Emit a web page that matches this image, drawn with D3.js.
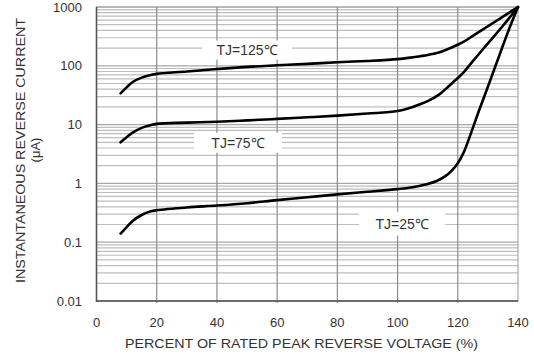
<!DOCTYPE html>
<html><head><meta charset="utf-8">
<script src="https://cdn.jsdelivr.net/npm/d3@7"></script>
<style>
html,body{margin:0;padding:0;background:#fff;}
svg{display:block;font-family:"Liberation Sans",Arial,sans-serif;}
</style></head>
<body>
<svg id="c" width="534" height="356"></svg>
<script>
// ---- data ----
const xTicks = [0, 20, 40, 60, 80, 100, 120, 140];
const yTicks = [0.01, 0.1, 1, 10, 100, 1000];
const yTickLabels = ["0.01", "0.1", "1", "10", "100", "1000"];
const series = ["TJ=125℃", "TJ=75℃", "TJ=25℃"];
const tj125 = [[8,34],[10,43],[12,53],[15,63],[18,70],[20,73],[30,80],[40,88],[50,96],[60,102],[70,108],[80,115],[90,121],[100,130],[105,140],[110,153],[114,170],[118,205],[122,257],[125,322],[128,405],[131,507],[134,636],[137,796],[140,1000]];
const tj75 = [[8,5],[10,6.1],[12,7.3],[15,8.8],[18,9.8],[20,10.3],[30,10.8],[40,11.2],[50,11.8],[60,12.5],[70,13.3],[80,14.2],[90,15.4],[100,17],[105,20],[110,25],[114,33],[117,45],[120,62],[122,78],[125,120],[130,240],[135,480],[140,1000]];
const tj25 = [[8,0.14],[10,0.18],[12,0.23],[15,0.29],[18,0.335],[20,0.35],[30,0.39],[40,0.42],[50,0.46],[60,0.52],[70,0.58],[80,0.65],[90,0.72],[100,0.80],[105,0.86],[110,0.98],[113,1.1],[116,1.34],[118,1.65],[120,2.2],[122,3.4],[124,6.3],[127,17],[130.7,55],[134,160],[137.4,470],[140,1000]];
const labelPos = [[50,185],[47,4.9],[101.5,0.206]]; // label anchor (x %, value)
const xTitle = "PERCENT OF RATED PEAK REVERSE VOLTAGE (%)";
const yTitle = "INSTANTANEOUS REVERSE CURRENT";
const yUnit = "(μA)";

// ---- layout ----
const svg = d3.select("#c");
const L = 96.5, R = 518, T = 7, B = 301;
const x = d3.scaleLinear().domain([0,140]).range([L,R]);
const y = d3.scaleLog().domain([0.01,1000]).range([B,T]);
const txt = "#333";

// minor horizontal grid
const minor = [];
for (let e = -2; e < 3; e++) for (let k = 2; k <= 9; k++) minor.push(k*Math.pow(10,e));
const g = svg.append("g");
g.selectAll("line.mh").data(minor).join("line")
 .attr("x1",L).attr("x2",R).attr("y1",d=>y(d)).attr("y2",d=>y(d))
 .attr("stroke","#bdbdbd").attr("stroke-width",1.2);
g.selectAll("line.Mh").data(yTicks).join("line")
 .attr("x1",L).attr("x2",R).attr("y1",d=>y(d)).attr("y2",d=>y(d))
 .attr("stroke","#a8a8a8").attr("stroke-width",1.2);
g.selectAll("line.v").data(xTicks.slice(1,-1)).join("line")
 .attr("x1",d=>x(d)).attr("x2",d=>x(d)).attr("y1",T).attr("y2",B+2)
 .attr("stroke","#8c8c8c").attr("stroke-width",1.2);

// label boxes (white, cover grid)
const lbl = svg.append("g");
series.forEach((s,i)=>{
  const cx = x(labelPos[i][0]), cy = y(labelPos[i][1]);
  const w = [90,88,86][i], h = [19,20,24][i];
  lbl.append("rect").attr("x",cx-w/2).attr("y",cy-h/2).attr("width",w).attr("height",h).attr("fill","#fff");
});

// frame
svg.append("rect").attr("x",L).attr("y",T).attr("width",R-L).attr("height",B-T)
 .attr("fill","none").attr("stroke","#9a9a9a").attr("stroke-width",1);
svg.append("line").attr("x1",L).attr("x2",L).attr("y1",T).attr("y2",B+1).attr("stroke","#555").attr("stroke-width",1.6);
svg.append("line").attr("x1",L).attr("x2",R).attr("y1",B).attr("y2",B).attr("stroke","#555").attr("stroke-width",1.6);

// curves
const line = d3.line().x(d=>x(d[0])).y(d=>y(d[1])).curve(d3.curveCatmullRom.alpha(0.5));
[tj125,tj75,tj25].forEach(s=>{
  svg.append("path").attr("d",line(s)).attr("fill","none").attr("stroke","#000")
   .attr("stroke-width",2.6).attr("stroke-linecap","round").attr("stroke-linejoin","round");
});

// label texts
series.forEach((s,i)=>{
  lbl.append("text").attr("x",x(labelPos[i][0])).attr("y",y(labelPos[i][1]))
   .attr("text-anchor","middle").attr("dominant-baseline","central")
   .attr("font-size",14).attr("fill",txt).text(s);
});

// tick labels
svg.selectAll("text.yt").data(yTicks).join("text")
 .attr("x",82).attr("y",d=>y(d)).attr("text-anchor","end").attr("dominant-baseline","central")
 .attr("font-size",13).attr("fill",txt).text((d,i)=>yTickLabels[i]);
svg.selectAll("text.xt").data(xTicks).join("text")
 .attr("x",d=>x(d)).attr("y",322).attr("text-anchor","middle").attr("dominant-baseline","central")
 .attr("font-size",13).attr("fill",txt).text(d=>d);

// titles
svg.append("text").attr("x",(125+478)/2).attr("y",343.5).attr("text-anchor","middle")
 .attr("dominant-baseline","central").attr("font-size",13).attr("fill",txt)
 .attr("textLength",353).attr("lengthAdjust","spacingAndGlyphs").text(xTitle);
svg.append("text").attr("transform","translate(20,150.5) rotate(-90)").attr("text-anchor","middle")
 .attr("dominant-baseline","central").attr("font-size",13).attr("fill",txt)
 .attr("textLength",265).attr("lengthAdjust","spacingAndGlyphs").text(yTitle);
svg.append("text").attr("transform","translate(35,150) rotate(-90)").attr("text-anchor","middle")
 .attr("dominant-baseline","central").attr("font-size",13).attr("fill",txt).text(yUnit);
</script>
</body></html>
